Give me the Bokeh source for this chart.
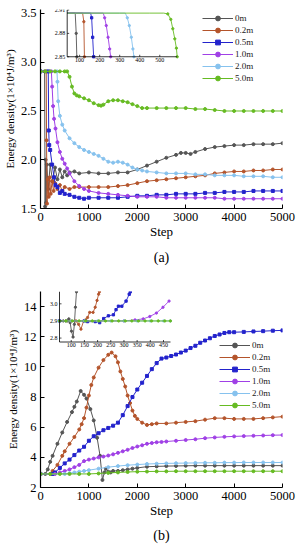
import math
from bokeh.plotting import figure
from bokeh.layouts import column
from bokeh.models import (Range1d, Legend, LegendItem, ColumnDataSource, LabelSet, Title,
                          FixedTicker, PrintfTickFormatter)
from bokeh.core.properties import value
from bokeh.embed import file_html
from bokeh.resources import INLINE

SERIF = "Liberation Serif"

series_names = ["0m", "0.2m", "0.5m", "1.0m", "2.0m", "5.0m"]
series_colors = ["#555555", "#b4542b", "#2323cc", "#a040e6", "#86c2ee", "#66bb22"]
series_markers = ["circle", "circle", "square", "circle", "circle", "circle"]

x_ticks = [0, 1000, 2000, 3000, 4000, 5000]
a_y_ticks = [1.5, 2.0, 2.5, 3.0, 3.5]
b_y_ticks = [2, 4, 6, 8, 10, 12, 14]

# ---------------- panel (a) main ----------------
a_0m_step = [0, 85, 95, 105, 115, 130, 160, 200, 250, 300, 350, 400, 450, 500, 550, 600, 700, 800, 1000, 1200,
             1400, 1600, 1800, 2000, 2200, 2400, 2600, 2800, 2900, 3000, 3100, 3200, 3400, 3600, 3800, 4000,
             4200, 4400, 4600, 4800, 5000]
a_0m_val = [2.906, 2.906, 1.52, 2.0, 1.56, 1.95, 1.7, 1.95, 1.78, 1.92, 1.80, 1.90, 1.82, 1.88, 1.84, 1.87, 1.88,
            1.86, 1.87, 1.86, 1.86, 1.87, 1.87, 1.90, 1.94, 1.98, 2.02, 2.05, 2.07, 2.07, 2.06, 2.08, 2.11, 2.13,
            2.14, 2.15, 2.15, 2.16, 2.16, 2.16, 2.17]

a_02_step = [0, 118, 125, 135, 150, 170, 190, 210, 240, 270, 300, 350, 400, 450, 500, 600, 700, 800, 1000, 1200,
             1400, 1600, 1800, 2000, 2200, 2400, 2600, 2800, 3000, 3200, 3400, 3600, 3800, 4000, 4200, 4400,
             4600, 4800, 5000]
a_02_val = [2.906, 2.906, 2.2, 1.55, 1.8, 1.62, 1.82, 1.65, 1.78, 1.68, 1.76, 1.70, 1.74, 1.68, 1.72, 1.70, 1.72,
            1.72, 1.72, 1.72, 1.72, 1.73, 1.74, 1.76, 1.78, 1.79, 1.80, 1.81, 1.82, 1.83, 1.84, 1.86, 1.87, 1.88,
            1.88, 1.89, 1.89, 1.90, 1.90]

a_05_step = [0, 160, 170, 180, 200, 240, 280, 310, 350, 400, 450, 500, 600, 700, 800, 900, 1000, 1200, 1400,
             1600, 1800, 2000, 2200, 2400, 2600, 2800, 3000, 3200, 3400, 3600, 3800, 4000, 4200, 4400, 4600,
             4800, 5000]
a_05_val = [2.906, 2.906, 2.3, 2.15, 2.1, 1.95, 1.82, 1.74, 1.72, 1.66, 1.68, 1.65, 1.64, 1.62, 1.61, 1.60, 1.61,
            1.61, 1.61, 1.61, 1.62, 1.63, 1.63, 1.64, 1.64, 1.65, 1.65, 1.65, 1.66, 1.66, 1.67, 1.67, 1.67, 1.68,
            1.68, 1.68, 1.68]

a_10_step = [0, 225, 240, 260, 280, 310, 350, 400, 450, 500, 550, 600, 700, 800, 900, 1000, 1200, 1400, 1600,
             1800, 2000, 2200, 2400, 2600, 2800, 3000, 3200, 3400, 3600, 3800, 4000, 4200, 4400, 4600, 4800, 5000]
a_10_val = [2.906, 2.906, 2.75, 2.55, 2.42, 2.32, 2.18, 2.08, 2.01, 1.96, 1.91, 1.86, 1.78, 1.73, 1.70, 1.68,
            1.66, 1.65, 1.64, 1.63, 1.62, 1.62, 1.62, 1.61, 1.61, 1.61, 1.61, 1.61, 1.61, 1.60, 1.60, 1.60, 1.60,
            1.60, 1.60, 1.60]

a_20_step = [0, 340, 350, 365, 400, 450, 500, 600, 700, 800, 900, 1000, 1100, 1200, 1300, 1400, 1500, 1600,
             1700, 1800, 1900, 2000, 2100, 2200, 2400, 2600, 2800, 3000, 3200, 3400, 3600, 3800, 4000, 4200,
             4400, 4600, 4800, 5000]
a_20_val = [2.906, 2.906, 2.8, 2.6, 2.45, 2.36, 2.3, 2.22, 2.17, 2.13, 2.10, 2.08, 2.06, 2.04, 2.01, 1.98,
            1.97, 1.98, 1.97, 1.95, 1.92, 1.90, 1.89, 1.88, 1.87, 1.86, 1.86, 1.86, 1.85, 1.85, 1.84, 1.84, 1.84,
            1.83, 1.83, 1.83, 1.82, 1.82]

a_50_step = [0, 100, 200, 300, 400, 500, 550, 600, 650, 700, 750, 800, 900, 1000, 1100, 1200, 1250, 1300, 1400,
             1500, 1600, 1700, 1800, 1900, 2000, 2100, 2200, 2400, 2600, 2800, 3000, 3200, 3400, 3600, 3800,
             4000, 4200, 4400, 4600, 4800, 5000]
a_50_val = [2.906, 2.906, 2.906, 2.906, 2.906, 2.906, 2.906, 2.85, 2.75, 2.68, 2.66, 2.65, 2.63, 2.61, 2.58,
            2.56, 2.555, 2.565, 2.60, 2.61, 2.61, 2.60, 2.59, 2.57, 2.55, 2.53, 2.53, 2.53, 2.53, 2.53, 2.53, 2.52,
            2.52, 2.51, 2.50, 2.50, 2.50, 2.50, 2.50, 2.50, 2.50]

# ---------------- panel (a) inset ----------------
ia_x_range = (38, 587)
ia_y_range = (2.85, 2.91)
ia_x_ticks = [100, 200, 300, 400, 500]
ia_y_ticks = [2.85, 2.88, 2.91]
ia_y_labels = ["2.85", "2.88", "2.91"]
ia_0m_step = [38, 60, 78, 83, 86]
ia_0m_val = [2.906, 2.906, 2.906, 2.88, 2.85]
ia_02_step = [38, 80, 115, 121, 124]
ia_02_val = [2.906, 2.906, 2.906, 2.895, 2.85]
ia_05_step = [38, 100, 155, 160, 165, 170]
ia_05_val = [2.906, 2.906, 2.906, 2.90, 2.875, 2.85]
ia_10_step = [38, 150, 218, 225, 233, 242, 250, 255]
ia_10_val = [2.906, 2.906, 2.906, 2.90, 2.89, 2.875, 2.86, 2.85]
ia_20_step = [38, 200, 328, 338, 348, 358, 366, 371]
ia_20_val = [2.906, 2.906, 2.906, 2.90, 2.89, 2.875, 2.86, 2.85]
ia_50_step = [38, 150, 300, 450, 520, 540, 555, 565, 575, 583, 587]
ia_50_val = [2.906, 2.906, 2.906, 2.906, 2.906, 2.905, 2.898, 2.886, 2.873, 2.861, 2.85]

# ---------------- panel (b) main ----------------
b_0m_step = [0, 100, 150, 200, 250, 350, 450, 550, 650, 700, 750, 830, 900, 950, 1030, 1100, 1170, 1230, 1280,
             1320, 1350, 1400, 1450, 1500, 1600, 1700, 1800, 1900, 2000, 2200, 2400, 2600, 2800, 3000, 3200,
             3400, 3600, 3800, 4000, 4200, 4400, 4600, 4800, 5000]
b_0m_val = [2.9, 2.9, 3.2, 3.7, 4.1, 4.9, 5.65, 6.35, 7.0, 7.35, 7.7, 8.4, 8.15, 7.9, 7.2, 6.45, 5.3, 4.1, 2.5,
            3.0, 3.25, 3.05, 3.0, 3.1, 3.1, 3.15, 3.2, 3.25, 3.3, 3.38, 3.4, 3.42, 3.43, 3.44, 3.45, 3.45, 3.45,
            3.45, 3.45, 3.45, 3.45, 3.45, 3.45, 3.45]

b_02_step = [0, 200, 250, 350, 450, 500, 600, 700, 800, 850, 900, 950, 1000, 1050, 1100, 1200, 1300, 1400, 1470,
             1550, 1600, 1650, 1700, 1750, 1800, 1850, 1900, 1950, 2000, 2100, 2200, 2300, 2400, 2600, 2800,
             3000, 3200, 3400, 3600, 3800, 4000, 4200, 4400, 4600, 4800, 5000]
b_02_val = [2.9, 2.9, 3.1, 3.5, 4.1, 4.4, 4.9, 5.35, 5.85, 6.2, 6.6, 7.3, 8.1, 8.8, 9.3, 9.95, 10.45, 10.8, 10.95,
            10.7, 10.3, 9.7, 9.2, 8.7, 8.1, 7.6, 7.1, 6.75, 6.55, 6.3, 6.15, 6.2, 6.25, 6.25, 6.3, 6.35, 6.4, 6.5,
            6.6, 6.6, 6.55, 6.55, 6.55, 6.6, 6.65, 6.7]

b_05_step = [0, 250, 300, 400, 500, 600, 700, 800, 900, 1000, 1100, 1200, 1300, 1400, 1500, 1600, 1700, 1800,
             1900, 2000, 2100, 2200, 2300, 2400, 2500, 2600, 2700, 2800, 2900, 3000, 3100, 3200, 3300, 3400,
             3500, 3600, 3700, 3800, 3900, 4000, 4200, 4400, 4600, 4800, 5000]
b_05_val = [2.9, 2.9, 3.0, 3.3, 3.6, 3.85, 4.15, 4.45, 4.7, 5.1, 5.4, 5.6, 5.8, 5.95, 6.1, 6.3, 6.8, 7.4, 8.0,
            8.5, 8.95, 9.4, 9.85, 10.25, 10.55, 10.62, 10.72, 10.82, 10.95, 11.08, 11.25, 11.4, 11.6, 11.75,
            11.9, 12.05, 12.15, 12.25, 12.3, 12.3, 12.32, 12.35, 12.37, 12.4, 12.42]

b_10_step = [0, 300, 400, 500, 600, 700, 800, 900, 1000, 1100, 1200, 1300, 1400, 1500, 1600, 1700, 1800, 1900,
             2000, 2100, 2200, 2300, 2400, 2500, 2600, 2800, 3000, 3200, 3400, 3600, 3800, 4000, 4200, 4400,
             4600, 4800, 5000]
b_10_val = [2.9, 2.9, 3.0, 3.1, 3.2, 3.35, 3.5, 3.75, 3.85, 3.92, 4.0, 4.05, 4.12, 4.2, 4.3, 4.4, 4.5, 4.62,
            4.72, 4.8, 4.9, 4.95, 5.0, 5.02, 5.05, 5.1, 5.15, 5.2, 5.27, 5.32, 5.36, 5.39, 5.41, 5.43, 5.45,
            5.47, 5.48]

b_20_step = [0, 500, 600, 700, 800, 900, 1000, 1200, 1400, 1600, 1800, 2000, 2200, 2400, 2600, 2800, 3000,
             3200, 3400, 3600, 3800, 4000, 4200, 4400, 4600, 4800, 5000]
b_20_val = [2.9, 2.9, 2.95, 3.0, 3.05, 3.1, 3.15, 3.25, 3.35, 3.42, 3.48, 3.52, 3.56, 3.58, 3.6, 3.61, 3.62,
            3.63, 3.64, 3.64, 3.65, 3.65, 3.66, 3.66, 3.66, 3.66, 3.66]

b_50_step = [0, 200, 400, 600, 800, 1000, 1200, 1400, 1600, 1800, 2000, 2200, 2400, 2600, 2800, 3000, 3200,
             3400, 3600, 3800, 4000, 4200, 4400, 4600, 4800, 5000]
b_50_val = [2.9, 2.9, 2.9, 2.9, 2.9, 2.9, 2.93, 2.97, 3.0, 3.03, 3.05, 3.06, 3.07, 3.07, 3.08, 3.08, 3.08,
            3.08, 3.08, 3.08, 3.08, 3.08, 3.08, 3.08, 3.08, 3.08]

# ---------------- panel (b) inset ----------------
ib_x_range = (55.6, 476.5)
ib_y_range = (2.777, 3.072)
ib_x_ticks = [100, 150, 200, 250, 300, 350, 400, 450]
ib_y_ticks = [2.8, 2.9, 3.0]
ib_y_labels = ["2.8", "2.9", "3.0"]
ib_0m_step = [56, 70, 80, 86, 91, 96, 101, 107, 112, 116, 120]
ib_0m_val = [2.9, 2.9, 2.9, 2.9, 2.912, 2.89, 2.84, 2.806, 2.88, 2.98, 3.07]
ib_02_step = [56, 100, 118, 128, 137, 147, 154, 162, 170, 183, 191, 198, 204, 207]
ib_02_val = [2.9, 2.9, 2.9, 2.88, 2.852, 2.9, 2.906, 2.92, 2.95, 2.95, 2.98, 3.02, 3.056, 3.07]
ib_05_step = [56, 150, 162, 191, 208, 223, 241, 260, 270, 279, 292, 308, 320, 324]
ib_05_val = [2.9, 2.9, 2.896, 2.896, 2.89, 2.914, 2.93, 2.936, 2.966, 2.986, 2.986, 3.016, 3.056, 3.07]
ib_10_step = [56, 300, 342, 373, 398, 423, 448, 471]
ib_10_val = [2.9, 2.9, 2.906, 2.912, 2.926, 2.946, 2.98, 3.016]
ib_20_step = [56, 100, 150, 200, 250, 300, 350, 400, 450, 476]
ib_20_val = [2.9, 2.9, 2.9, 2.9, 2.9, 2.9, 2.9, 2.9, 2.9, 2.9]
ib_50_step = [56, 80, 105, 130, 155, 180, 205, 230, 255, 280, 305, 330, 355, 380, 405, 430, 455, 476]
ib_50_val = [2.9, 2.9, 2.9, 2.9, 2.9, 2.9, 2.9, 2.9, 2.9, 2.9, 2.9, 2.9, 2.9, 2.9, 2.9, 2.9, 2.9, 2.9]

A_MAIN = [(a_0m_step, a_0m_val), (a_02_step, a_02_val), (a_05_step, a_05_val),
          (a_10_step, a_10_val), (a_20_step, a_20_val), (a_50_step, a_50_val)]
A_INSET = [(ia_0m_step, ia_0m_val), (ia_02_step, ia_02_val), (ia_05_step, ia_05_val),
           (ia_10_step, ia_10_val), (ia_20_step, ia_20_val), (ia_50_step, ia_50_val)]
B_MAIN = [(b_0m_step, b_0m_val), (b_02_step, b_02_val), (b_05_step, b_05_val),
          (b_10_step, b_10_val), (b_20_step, b_20_val), (b_50_step, b_50_val)]
B_INSET = [(ib_0m_step, ib_0m_val), (ib_02_step, ib_02_val), (ib_05_step, ib_05_val),
           (ib_10_step, ib_10_val), (ib_20_step, ib_20_val), (ib_50_step, ib_50_val)]

Y_LABEL = "Energy density(1\u00d710\u2074J/m\u00b3)"

FIG_W = 298
FRAME_L, FRAME_R = 40, 282          # page x of frame edges


def make_panel(height, top, bottom, y_range, y_ticks, y_fmt, tag, tag_standoff):
    p = figure(width=FIG_W, height=height, x_range=Range1d(0, 5000), y_range=Range1d(*y_range),
               output_backend="svg", toolbar_location=None,
               min_border_left=FRAME_L, min_border_right=FIG_W - FRAME_R,
               min_border_top=top, min_border_bottom=bottom,
               background_fill_color="white", border_fill_color="white")
    p.outline_line_color = None
    p.xgrid.visible = False
    p.ygrid.visible = False
    for ax in (p.xaxis[0], p.yaxis[0]):
        ax.axis_line_color = "black"
        ax.axis_line_width = 1.2
        ax.major_tick_in = 4
        ax.major_tick_out = 0
        ax.major_tick_line_color = "black"
        ax.minor_tick_line_color = None
        ax.major_label_text_font = SERIF
        ax.major_label_text_font_size = "12.5px"
        ax.major_label_text_color = "black"
        ax.axis_label_text_font = SERIF
        ax.axis_label_text_font_style = "normal"
        ax.axis_label_text_color = "black"
        ax.axis_label_standoff = 0
    p.xaxis.major_label_standoff = 4
    p.yaxis.major_label_standoff = 4
    p.yaxis.axis_label_standoff = 2
    p.xaxis.ticker = FixedTicker(ticks=x_ticks)
    p.yaxis.ticker = FixedTicker(ticks=y_ticks)
    p.yaxis.formatter = PrintfTickFormatter(format=y_fmt)
    p.xaxis.axis_label = "Step"
    p.xaxis.axis_label_text_font_size = "13px"
    p.yaxis.axis_label = Y_LABEL
    p.yaxis.axis_label_text_font_size = "11px"
    p.add_layout(Title(text=tag, align="center", offset=-14, standoff=tag_standoff, text_font=SERIF,
                       text_font_size="14px", text_font_style="normal", text_color="black"), "below")
    return p


def draw_main(p, series, legend_loc):
    items = []
    for (xs, ys), name, col, mk in zip(series, series_names, series_colors, series_markers):
        lr = p.line(xs, ys, line_color=col, line_width=1.0)
        sr = p.scatter(xs, ys, marker=mk, size=3.0, fill_color=col, line_color=col)
        items.append(LegendItem(label=name, renderers=[lr, sr]))
    leg = Legend(items=items, location=legend_loc, orientation="vertical",
                 label_text_font=SERIF, label_text_font_size="9px", label_text_color="#222222",
                 glyph_width=31, glyph_height=12, label_height=12, label_width=20,
                 spacing=0, padding=0, margin=0, label_standoff=2,
                 border_line_color=None, background_fill_alpha=0)
    p.add_layout(leg)


def draw_inset(p, series, frame_px, box_px, xr, yr, xticks, yticks, ylabels, flat_level):
    fx0, fx1, ft, fb = frame_px
    bx0, bx1, bt, bb = box_px
    sx = (bx1 - bx0) / (xr[1] - xr[0])
    sy = (bb - bt) / (yr[1] - yr[0])
    p.extra_x_ranges = {"ix": Range1d(xr[0] - (bx0 - fx0) / sx, xr[1] + (fx1 - bx1) / sx)}
    p.extra_y_ranges = {"iy": Range1d(yr[0] - (fb - bb) / sy, yr[1] + (bt - ft) / sy)}
    kw = dict(x_range_name="ix", y_range_name="iy")
    for (xs, ys), col, mk in zip(series, series_colors, series_markers):
        p.line(xs, ys, line_color=col, line_width=0.9, **kw)
        mx = [x for x, y in zip(xs, ys) if flat_level is None or y < flat_level]
        my = [y for y in ys if flat_level is None or y < flat_level]
        p.scatter(mx, my, marker=mk, size=2.3, fill_color=col, line_color=col, **kw)
    p.segment(x0=[xr[0], xr[0]], y0=[yr[0], yr[0]], x1=[xr[0], xr[1]], y1=[yr[1], yr[0]],
              line_color="black", line_width=0.8, **kw)
    tl = 2.0
    nx, ny = len(xticks), len(yticks)
    p.segment(x0=xticks, y0=[yr[0]] * nx, x1=xticks, y1=[yr[0] + tl / sy] * nx,
              line_color="black", line_width=0.7, **kw)
    p.segment(x0=[xr[0]] * ny, y0=yticks, x1=[xr[0] + tl / sx] * ny, y1=yticks,
              line_color="black", line_width=0.7, **kw)
    xsrc = ColumnDataSource(dict(x=xticks, y=[yr[0]] * nx, t=[str(v) for v in xticks]))
    p.add_layout(LabelSet(source=xsrc, x="x", y="y", text="t", text_align="center", text_baseline="top",
                          y_offset=-1, text_font=value(SERIF), text_font_size=value("6px"),
                          text_color="black", **kw))
    ysrc = ColumnDataSource(dict(x=[xr[0]] * ny, y=yticks, t=ylabels))
    p.add_layout(LabelSet(source=ysrc, x="x", y="y", text="t", text_align="right", text_baseline="middle",
                          x_offset=-2, text_font=value(SERIF), text_font_size=value("6px"),
                          text_color="black", **kw))


# panel (a): page y 0..270; frame y 9..209 (98 px per unit)
pa = make_panel(270, 9, 61, (1.5, 1.5 + 200 / 98.0), a_y_ticks, "%.1f", "(a)", 12)
draw_main(pa, A_MAIN, (162, 124))
draw_inset(pa, A_INSET, (40, 282, 9, 209), (66.7, 176.7, 9.5, 56.5), ia_x_range, ia_y_range,
           ia_x_ticks, ia_y_ticks, ia_y_labels, 2.9055)

# panel (b): page y 270..548; frame y 291..487
pb = make_panel(278, 21, 61, (2, 15), b_y_ticks, "%d", "(b)", 11)
draw_main(pb, B_MAIN, (179, 76))
draw_inset(pb, B_INSET, (40, 282, 291, 487), (59, 170, 291, 341.5), ib_x_range, ib_y_range,
           ib_x_ticks, ib_y_ticks, ib_y_labels, None)

layout = column(pa, pb, spacing=0)
open("out.html", "w").write(file_html(layout, INLINE))
